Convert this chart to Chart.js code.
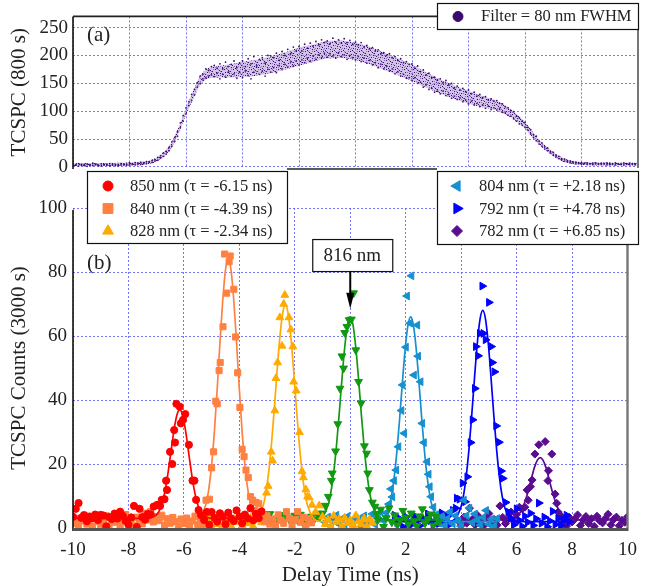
<!DOCTYPE html>
<html>
<head>
<meta charset="utf-8">
<script src="https://cdn.jsdelivr.net/npm/chart.js@4.4.1/dist/chart.umd.min.js"></script>
<style>
  body { margin: 0; background: #fff; }
  #wrap { position: relative; width: 648px; height: 586px; }
  #wrap canvas { position: absolute; left: 0; top: 0; }
</style>
</head>
<body>
<div id="wrap">
  <canvas id="topPanel" width="648" height="586"></canvas>
  <canvas id="bottomPanel" width="648" height="586"></canvas>
</div>
<script>
// ============================ DATA ============================

// ---- panel (a): broadband TCSPC, 800 s ----
const xTop = [-10,-9.9,-9.8,-9.7,-9.6,-9.5,-9.4,-9.3,-9.2,-9.1,
  -9,-8.9,-8.8,-8.7,-8.6,-8.5,-8.4,-8.3,-8.2,-8.1,
  -8,-7.9,-7.8,-7.7,-7.6,-7.5,-7.4,-7.3,-7.2,-7.1,
  -7,-6.9,-6.8,-6.7,-6.6,-6.5,-6.4,-6.3,-6.2,-6.1,
  -6,-5.9,-5.8,-5.7,-5.6,-5.5,-5.4,-5.3,-5.2,-5.1,
  -5,-4.9,-4.8,-4.7,-4.6,-4.5,-4.4,-4.3,-4.2,-4.1,
  -4,-3.9,-3.8,-3.7,-3.6,-3.5,-3.4,-3.3,-3.2,-3.1,
  -3,-2.9,-2.8,-2.7,-2.6,-2.5,-2.4,-2.3,-2.2,-2.1,
  -2,-1.9,-1.8,-1.7,-1.6,-1.5,-1.4,-1.3,-1.2,-1.1,
  -1,-0.9,-0.8,-0.7,-0.6,-0.5,-0.4,-0.3,-0.2,-0.1,
  0,0.1,0.2,0.3,0.4,0.5,0.6,0.7,0.8,0.9,
  1,1.1,1.2,1.3,1.4,1.5,1.6,1.7,1.8,1.9,
  2,2.1,2.2,2.3,2.4,2.5,2.6,2.7,2.8,2.9,
  3,3.1,3.2,3.3,3.4,3.5,3.6,3.7,3.8,3.9,
  4,4.1,4.2,4.3,4.4,4.5,4.6,4.7,4.8,4.9,
  5,5.1,5.2,5.3,5.4,5.5,5.6,5.7,5.8,5.9,
  6,6.1,6.2,6.3,6.4,6.5,6.6,6.7,6.8,6.9,
  7,7.1,7.2,7.3,7.4,7.5,7.6,7.7,7.8,7.9,
  8,8.1,8.2,8.3,8.4,8.5,8.6,8.7,8.8,8.9,
  9,9.1,9.2,9.3,9.4,9.5,9.6,9.7,9.8,9.9,10];
const topDotsA = [5.5,3.0,6.0,4.5,2.5,5.0,3.5,6.5,4.0,2.0,
  5.5,4.5,3.0,6.0,5.0,2.5,4.5,6.0,3.5,5.0,
  7.0,4.5,7.5,6.5,8.0,6.0,9.5,8.5,11.5,13.0,
  17,16,25,28,29,45,53,63,70,92,
  106,110,130,139,151,163,158,176,173,180,
  182,168,185,176,188,170,184,190,178,186,
  190,180,194,185,198,179,193,196,186,200,
  199,196,204,191,207,200,211,203,215,208,
  216,208,220,213,222,217,225,219,228,223,
  226,221,231,224,228,222,230,223,227,220,
  224,219,223,215,218,212,214,208,210,203,
  205,200,203,196,198,191,194,187,189,184,
  185,177,181,171,174,165,168,160,161,156,
  158,151,155,147,150,142,145,138,141,135,
  138,131,134,127,130,124,126,120,122,118,
  119,114,113,108,106,101,99,91,88,82,
  80,71,67,58,55,46,43,36,34,28,
  26,21,19,15,14,11,10.5,9,8.5,7.5,
  7.5,6.0,7.0,5.5,6.5,7.0,5.0,6.5,6.0,7.0,
  6.5,5.0,7.0,6.0,5.5,7.0,5.0,6.5,6.0,5.5,6.0];
const topDotsB = [2.0,4.0,1.5,3.0,4.5,1.0,3.5,2.5,5.0,3.0,
  1.5,3.5,5.0,2.0,3.0,4.5,2.0,3.5,5.5,3.0,
  3.5,6.0,4.0,5.0,4.5,7.5,6.0,9.5,8.0,10.5,
  12,20,19,23,35,37,46,55,79,82,
  95,117,119,129,143,150,166,160,163,165,
  162,177,158,166,161,180,163,167,159,170,
  160,172,164,158,170,182,166,172,163,175,
  170,178,169,182,176,184,179,188,181,190,
  183,192,187,195,190,199,193,201,196,204,
  197,203,199,195,205,198,201,193,200,196,
  192,198,189,195,186,191,183,187,178,184,
  176,181,172,176,167,171,163,166,159,160,
  155,160,150,152,143,147,139,141,134,136,
  131,136,128,130,123,127,121,124,117,120,
  113,118,111,114,108,111,105,109,103,106,
  102,104,98,97,93,91,86,82,77,75,
  71,66,59,53,47,41,37,32,29,25,
  21,18,15,13,10.5,9,7.5,7,5.5,6,
  5.0,6.5,4.5,6.0,4.0,5.5,6.0,4.5,5.5,4.0,
  4.0,5.5,3.5,5.0,4.5,3.5,6.0,4.0,5.0,4.0,4.5];
// envelope of the dense scatter band
const bandX  = [-10,-9,-8.5,-8,-7.5,-7.25,-7,-6.75,-6.5,-6.25,-6,-5.75,-5.5,-5.25,-5,-4.5,-4,-3.5,-3,-2.5,
  -2,-1.5,-1,-0.5,0,0.5,1,1.5,2,2.5,3,3.5,4,4.5,5,5.5,5.75,6,6.25,6.5,6.75,7,7.25,7.5,7.75,8,8.5,9,10];
const bandHi = [6.6,6.8,7.3,7.8,9.6,12,17.8,28.5,45.2,72.9,106.6,135.3,163,176.4,180.1,183.5,188.6,192.3,198,205.7,
  214.4,219.7,225.7,226.7,222.7,215.7,205.7,195,184,169.6,156.9,146.2,136.5,127.1,118.7,103.3,92.6,80.9,64.2,48.5,
  37.2,26.8,18.5,13.1,10.3,8.8,7.8,7.6,7.6];
const bandLo = [1.2,1.4,1.9,2.4,3.6,5.2,10.4,19.5,34.8,61.1,93.4,120.7,147,157.6,159.9,160.5,161.4,163.7,168,174.3,
  181.6,188.3,194.3,195.3,191.3,184.3,174.3,165,154,142.4,131.1,121.8,113.5,106.9,101.3,88.7,79.4,69.1,53.8,39.5,
  28.9,19.2,11.6,6.9,4.8,3.3,2.5,2.3,2.3];
const topTicks = [0, 50, 100, 150, 200, 250];
const topLegend = 'Filter = 80 nm FWHM';

// ---- panel (b): filtered TCSPC, 3000 s ----
const xTicks = [-10, -8, -6, -4, -2, 0, 2, 4, 6, 8, 10];
const bottomTicks = [0, 20, 40, 60, 80, 100];

const x850 = [-10,-9.9,-9.8,-9.7,-9.6,-9.5,-9.4,-9.3,-9.2,-9.1,
  -9,-8.9,-8.8,-8.7,-8.6,-8.5,-8.4,-8.3,-8.2,-8.1,
  -8,-7.9,-7.8,-7.7,-7.6,-7.5,-7.4,-7.3,-7.2,-7.09,
  -6.97,-6.86,-6.8,-6.7,-6.64,-6.61,-6.5,-6.42,-6.35,-6.32,
  -6.27,-6.15,-6.11,-6.03,-5.95,-5.82,-5.69,-5.62,-5.56,-5.47,
  -5.38,-5.27,-5.17,-5.08,-5,-4.9,-4.8,-4.7,-4.6,-4.5,
  -4.4,-4.3,-4.2,-4.1,-4,-3.9,-3.8,-3.7,-3.6,-3.5,
  -3.4,-3.3,-3.2];
const y850 = [3.5,6.0,7.8,3.2,4.0,2.1,3.6,3.0,4.2,2.5,
  4.1,3.9,0.5,3.4,2.8,4.5,3.0,5.1,3.8,2.2,
  1.0,3.3,6.9,0.3,6.0,3.4,2.6,4.4,4.3,6.7,
  7.2,6.9,8.8,9.0,14.8,11.9,23.8,20.0,30.6,26.7,
  38.8,37.9,32.7,33.8,35.6,26.0,14.8,14.8,8.8,5.6,
  4.0,2.5,5.0,1.0,5.0,3.2,2.0,4.6,3.5,1.2,
  4.8,3.0,2.2,5.5,3.6,1.5,4.2,3.0,6.2,2.4,
  4.4,3.1,5.2];
const fitX850 = [-10,-7.35,-7.15,-6.95,-6.85,-6.75,-6.65,-6.55,-6.45,-6.35,-6.25,-6.15,
  -6.05,-5.95,-5.85,-5.75,-5.65,-5.55,-5.45,-5.35,-5.15,-4.95,-3.2];
const fitY850 = [3,3,3.3,4.5,6.1,8.9,13,18.6,24.9,31,35.4,37,35.4,31,24.9,18.6,13,8.9,6.1,4.5,3.3,3,3];

const x840 = [-10,-9.9,-9.8,-9.7,-9.6,-9.5,-9.4,-9.3,-9.2,-9.1,
  -9,-8.9,-8.8,-8.7,-8.6,-8.5,-8.4,-8.3,-8.2,-8.1,
  -8,-7.9,-7.8,-7.7,-7.6,-7.5,-7.4,-7.3,-7.2,-7.1,
  -7,-6.9,-6.8,-6.7,-6.6,-6.5,-6.4,-6.3,-6.2,-6.1,
  -6,-5.9,-5.8,-5.7,-5.6,-5.5,-5.4,-5.3,
  -5.2,-5.08,-5,-4.93,-4.85,-4.8,-4.73,-4.69,-4.59,-4.53,-4.46,-4.37,-4.33,-4.2,-4.14,-4.06,
  -3.98,-3.9,-3.83,-3.76,-3.68,-3.6,-3.52,-3.45,
  -3.4,-3.3,-3.2,-3.1,-3,-2.9,-2.8,-2.7,-2.6,-2.5,
  -2.4,-2.3,-2.2,-2.1,-2,-1.9,-1.8,-1.7,-1.6,-1.5,-1.4];
const y840 = [1.5,3.0,0.8,2.2,4.0,1.2,2.8,0.5,3.5,2.0,
  1.0,2.6,3.8,0.6,2.4,1.8,3.2,0.9,2.7,4.2,
  1.6,2.9,0.7,3.4,2.1,1.3,4.6,2.5,5.1,1.9,
  3.6,2.3,4.0,0.8,2.9,1.5,3.3,2.0,0.6,2.8,
  1.4,3.1,0.9,2.2,3.7,1.1,2.6,0.8,
  8.7,9.0,18.8,23.8,39.6,38.8,49.2,51.7,62.9,85.6,73.4,83.2,85.0,74.6,59.7,48.5,
  37.7,24.6,22.3,18.1,15.8,9.8,8.7,5.5,
  8.0,7.6,4.5,2.0,3.8,1.2,2.7,0.8,4.1,2.4,
  1.5,5.1,3.0,0.9,2.6,5.1,1.8,3.4,0.7,2.9,1.6];
const fitX840 = [-10,-5.6,-5.4,-5.2,-5.1,-5,-4.9,-4.8,-4.7,-4.6,-4.5,-4.4,
  -4.3,-4.2,-4.1,-4,-3.9,-3.8,-3.7,-3.6,-3.4,-3.2,-1.4];
const fitY840 = [2.5,2.6,3.6,7.6,12.3,19.7,30.1,43.3,57.8,71,80.6,84,80.6,71,57.8,43.3,30.1,19.7,12.3,7.6,3.6,2.6,2.5];

const x828 = [-5.4,-5.3,-5.2,-5.1,-5,-4.9,-4.8,-4.7,-4.6,-4.5,
  -4.4,-4.3,-4.2,-4.1,-4,-3.9,-3.8,-3.7,-3.6,-3.5,
  -3.4,-3.3,-3.2,-3.1,
  -3.02,-2.96,-2.85,-2.8,-2.72,-2.68,-2.62,-2.54,-2.46,-2.4,-2.36,-2.21,-2.14,-2.07,-2.04,-1.95,
  -1.83,-1.74,-1.69,-1.6,-1.54,-1.48,-1.38,-1.25,-1.12,
  -1,-0.9,-0.8,-0.7,-0.6,-0.5,-0.4,-0.3,-0.2,-0.1,
  0,0.1,0.2,0.3,0.4,0.5,0.6,0.7,0.8];
const y828 = [2.0,0.4,1.8,3.0,0.3,2.4,1.2,3.4,0.8,2.2,
  1.5,0.6,2.9,1.9,3.6,0.7,2.3,1.4,3.1,0.5,
  2.6,4.0,1.7,3.3,
  11.0,13.1,23.8,21.0,36.7,46.8,51.7,65.8,56.9,70.0,72.8,65.8,62.0,56.7,45.7,42.9,
  29.9,17.7,15.8,12.0,9.8,9.5,7.2,5.0,7.0,
  3.5,1.2,2.6,0.4,3.8,1.9,2.8,0.6,3.2,1.5,
  2.4,0.9,3.9,2.0,1.1,3.0,0.5,2.7,1.6];
const fitX828 = [-5.4,-3.54,-3.34,-3.14,-3.04,-2.94,-2.84,-2.74,-2.64,-2.54,-2.44,-2.34,
  -2.24,-2.14,-2.04,-1.94,-1.84,-1.74,-1.64,-1.54,-1.34,-1.14,0.8];
const fitY828 = [2,2.1,3.2,7,11.2,17.6,26.4,37.2,48.9,59.5,67,69.7,67,59.5,48.9,37.2,26.4,17.6,11.2,7,3.2,2.1,2];

const x816 = [-3.1,-3,-2.9,-2.8,-2.7,-2.6,-2.5,-2.4,-2.3,-2.2,
  -2.1,-2,-1.9,-1.8,-1.7,-1.6,-1.5,-1.4,-1.3,-1.2,
  -1.1,-1,
  -0.9,-0.79,-0.68,-0.65,-0.53,-0.45,-0.37,-0.3,-0.24,-0.2,-0.12,-0.04,0.04,0.12,0.2,0.3,0.39,
  0.51,0.59,0.63,0.69,0.8,0.89,0.95,
  1,1.1,1.2,1.3,1.4,1.5,1.6,1.7,1.8,1.9,
  2,2.1,2.2,2.3,2.4,2.5,2.6,2.7,2.8,2.9,
  3,3.1,3.2];
const y816 = [3.8,2.2,4.4,1.6,3.0,2.6,4.1,1.9,3.4,2.8,
  1.2,3.9,2.4,4.2,1.5,3.1,2.0,3.6,2.7,4.5,
  3.4,4.6,
  7.0,9.8,14.8,17.1,24.0,32.5,43.6,53.7,49.9,61.0,62.9,65.0,65.2,73.4,55.6,45.7,39.0,
  25.6,23.3,17.1,11.9,8.0,6.7,4.4,
  2.6,5.8,0.4,3.1,6.2,1.8,4.0,0.9,2.5,5.4,
  3.3,1.2,4.6,2.2,0.6,3.7,5.9,1.5,2.8,4.3,
  0.8,3.5,2.0];
const fitX816 = [-3.1,-1.2,-1,-0.8,-0.7,-0.6,-0.5,-0.4,-0.3,-0.2,-0.1,0,
  0.1,0.2,0.3,0.4,0.5,0.6,0.7,0.8,1,1.2,3.2];
const fitY816 = [2.5,2.6,3.6,7.1,11.1,17.1,25.4,35.5,46.5,56.4,63.5,66,63.5,56.4,46.5,35.5,25.4,17.1,11.1,7.1,3.6,2.6,2.5];

const x804 = [-0.9,-0.8,-0.7,-0.6,-0.5,-0.4,-0.3,-0.2,-0.1,0,
  0.1,0.2,0.3,0.4,0.5,0.6,0.7,0.8,0.9,1,
  1.1,1.2,1.3,
  1.4,1.47,1.52,1.58,1.66,1.74,1.85,1.89,1.95,2.01,2.05,2.16,2.21,2.3,2.42,2.45,2.54,2.6,2.66,
  2.78,2.83,2.87,2.92,3,
  3.1,3.2,3.3,3.4,3.5,3.6,3.7,3.8,3.9,4,
  4.1,4.2,4.3,4.4,4.5,4.6,4.7,4.8,4.9,5,
  5.1,5.2,5.3];
const y804 = [1.8,3.4,0.6,2.5,4.0,1.2,2.9,0.3,3.6,2.0,
  1.0,3.1,2.4,0.5,3.8,1.6,2.7,4.4,1.1,3.0,
  5.0,2.3,4.8,
  7.5,12.2,9.7,14.8,18.1,25.4,36.7,44.7,29.6,56.5,72.5,64.0,78.8,47.8,63.4,53.7,45.7,32.7,26.7,
  20.7,16.8,12.9,9.8,6.5,
  4.2,1.5,3.6,0.8,2.9,5.0,1.3,3.8,2.2,0.5,
  8.7,3.9,6.2,1.7,4.4,2.6,0.9,3.3,5.5,1.2,
  2.8,0.6,3.0];
const fitX804 = [-0.9,0.98,1.18,1.38,1.48,1.58,1.68,1.78,1.88,1.98,2.08,2.18,
  2.28,2.38,2.48,2.58,2.68,2.78,2.88,2.98,3.18,3.38,5.3];
const fitY804 = [2,2.1,2.8,6,9.7,15.5,23.7,34,45.4,55.8,63.3,66,63.3,55.8,45.4,34,23.7,15.5,9.7,6,2.8,2.1,2];

const x792 = [1.6,1.7,1.8,1.9,2,2.1,2.2,2.3,2.4,2.5,
  2.6,2.7,2.8,2.9,3,3.1,3.2,3.3,3.4,3.5,
  3.6,3.7,
  3.8,3.84,3.94,4.05,4.14,4.22,4.34,4.41,4.49,4.53,4.61,4.67,4.76,4.8,4.88,5,5.08,5.12,5.2,5.26,
  5.36,5.44,5.5,5.6,5.7,
  5.8,5.9,6,6.1,6.2,6.3,6.4,6.5,6.6,6.7,
  6.8,6.9,7,7.1,7.2,7.3,7.4,7.5,7.6,7.7,
  7.8,7.9];
const y792 = [4.0,1.6,2.8,0.4,3.5,2.1,1.0,3.9,2.5,0.7,
  3.2,1.8,4.4,2.3,0.9,3.0,1.4,4.7,2.2,3.6,
  1.2,5.5,
  6.2,9.3,9.0,14.0,8.2,16.0,26.7,33.8,43.6,56.7,53.8,60.8,75.6,60.8,58.8,70.5,56.7,51.7,48.8,31.9,
  26.8,17.8,15.5,8.0,5.0,
  3.1,1.0,6.0,2.4,0.5,3.7,1.8,4.6,0.8,2.9,
  7.8,1.5,3.4,0.4,2.2,5.2,1.1,3.0,0.7,2.6,
  4.0,1.9];
const fitX792 = [1.6,3.58,3.78,3.98,4.08,4.18,4.28,4.38,4.48,4.58,4.68,4.78,
  4.88,4.98,5.08,5.18,5.28,5.38,5.48,5.58,5.78,5.98,7.9];
const fitY792 = [2,2.1,2.9,6.2,9.9,15.9,24.4,35,46.7,57.5,65.2,68,65.2,57.5,46.7,35,24.4,15.9,9.9,6.2,2.9,2.1,2];

const x782 = [3.9,4,4.1,4.2,4.3,4.4,4.5,4.6,4.7,4.8,
  4.9,5,5.1,5.2,5.3,5.4,5.5,5.6,5.7,5.8,
  5.9,6,6.1,
  6.2,6.3,6.38,6.42,6.5,6.56,6.66,6.8,7.03,7.13,7.15,7.27,7.39,7.45,7.5,
  7.6,7.7,7.8,7.9,8,8.1,8.2,8.3,8.4,8.5,
  8.6,8.7,8.8,8.9,9,9.1,9.2,9.3,9.4,9.5,
  9.6,9.7,9.8,9.9,10];
const y782 = [2.2,0.8,3.4,1.5,6.2,2.7,1.0,3.9,2.0,0.6,
  3.1,4.5,1.8,2.6,0.9,6.9,3.3,1.4,2.8,5.0,
  2.1,4.2,6.5,
  6.0,6.5,11.9,8.7,12.9,15.0,23.1,26.0,27.0,14.8,17.9,23.1,10.6,7.7,5.0,
  3.8,2.0,0.6,3.3,1.9,2.8,4.1,0.8,2.5,3.6,
  1.4,2.9,0.5,3.7,2.2,1.6,3.0,4.3,1.0,2.7,
  3.4,0.7,2.4,1.8,3.5];
const fitX782 = [3.9,5.65,5.85,6.05,6.15,6.25,6.35,6.45,6.55,6.65,6.75,6.85,
  6.95,7.05,7.15,7.25,7.35,7.45,7.55,7.65,7.85,8.05,10];
const fitY782 = [2.5,2.5,2.8,3.9,5.1,7,9.5,12.6,16,19.1,21.2,22,21.2,19.1,16,12.6,9.5,7,5.1,3.9,2.8,2.5,2.5];

// ============================ STYLE ============================
const SERIF = '"Liberation Serif", "Times New Roman", serif';
const GRID = 'rgba(85, 85, 250, 0.8)';
const TEXT = '#222';

// series table: wavelength label, colour, marker; legend side (null = not in legend)
const series = [
  {label: '850 nm (τ = -6.15 ns)', color: '#ff0000', style: 'circle',   rot: 0,   r: 3.6, lr: 5,   side: 'L', x: x850, y: y850, fx: fitX850, fy: fitY850},
  {label: '840 nm (τ = -4.39 ns)', color: '#ff8040', style: 'rect',     rot: 0,   r: 4.3, lr: 7,   side: 'L', x: x840, y: y840, fx: fitX840, fy: fitY840},
  {label: '828 nm (τ = -2.34 ns)', color: '#ffaa00', style: 'triangle', rot: 0,   r: 4.5, lr: 6.2, side: 'L', x: x828, y: y828, fx: fitX828, fy: fitY828},
  {label: '816 nm',                color: '#119911', style: 'triangle', rot: 180, r: 4.5, lr: 6.2, side: null, x: x816, y: y816, fx: fitX816, fy: fitY816},
  {label: '804 nm (τ = +2.18 ns)', color: '#1590d0', style: 'triangle', rot: 270, r: 4.5, lr: 6.2, side: 'R', x: x804, y: y804, fx: fitX804, fy: fitY804},
  {label: '792 nm (τ = +4.78 ns)', color: '#0000ff', style: 'triangle', rot: 90,  r: 4.5, lr: 6.2, side: 'R', x: x792, y: y792, fx: fitX792, fy: fitY792},
  {label: '782 nm (τ = +6.85 ns)', color: '#5a0d8f', style: 'rectRot',  rot: 0,   r: 4,   lr: 5.5, side: 'R', x: x782, y: y782, fx: fitX782, fy: fitY782}
];

const pts = (xs, ys) => xs.map((x, i) => ({x: x, y: ys[i]}));
const fixedTicks = list => scale => { scale.ticks = list.map(v => ({value: v})); };

// stippled fill so the band reads like a dense cloud of tiny points
function stipple() {
  const c = document.createElement('canvas');
  c.width = 9; c.height = 9;
  const g = c.getContext('2d');
  g.fillStyle = 'rgba(165, 135, 210, 0.5)';
  g.fillRect(0, 0, 9, 9);
  g.fillStyle = 'rgba(120, 80, 175, 0.7)';
  [[2, 0], [6, 1], [0, 3], [4, 3], [8, 4], [2, 6], [6, 6], [4, 8]].forEach(p => g.fillRect(p[0], p[1], 1, 1));
  g.fillStyle = '#40106f';
  [[0, 0], [4, 1], [7, 2], [2, 3], [6, 4], [1, 5], [8, 6], [3, 7], [5, 8]].forEach(p => g.fillRect(p[0], p[1], 1, 1));
  return g.createPattern(c, 'repeat');
}

function line(ctx, x1, y1, x2, y2, color, width) {
  ctx.save();
  ctx.strokeStyle = color;
  ctx.lineWidth = width;
  ctx.beginPath();
  ctx.moveTo(x1, y1);
  ctx.lineTo(x2, y2);
  ctx.stroke();
  ctx.restore();
}

function box(ctx, x, y, w, h) {
  ctx.save();
  ctx.fillStyle = '#fff';
  ctx.fillRect(x, y, w, h);
  ctx.strokeStyle = '#111';
  ctx.lineWidth = 1.2;
  ctx.strokeRect(x + 0.5, y + 0.5, w, h);
  ctx.restore();
}

function marker(ctx, s, x, y) {
  ctx.save();
  ctx.fillStyle = s.color;
  ctx.strokeStyle = s.color;
  Chart.helpers.drawPoint(ctx, {pointStyle: s.style, rotation: s.rot, radius: s.lr, borderWidth: 1}, x, y);
  ctx.restore();
}

function label(ctx, text, x, y, size, align) {
  ctx.save();
  ctx.fillStyle = TEXT;
  ctx.font = size + 'px ' + SERIF;
  ctx.textAlign = align || 'left';
  ctx.textBaseline = 'middle';
  ctx.fillText(text, x, y);
  ctx.restore();
}

// ============================ PANEL (a) ============================
const topFrame = {
  id: 'topFrame',
  afterDraw(chart) {
    const {ctx, chartArea: a} = chart;
    line(ctx, a.left, a.top, a.left, a.bottom + 1, '#111', 1.6);     // left axis
    line(ctx, a.left, a.top, 437, a.top, '#222', 1.8);               // top frame
    line(ctx, a.right, 29, a.right, a.bottom, '#777', 2);            // right frame
    line(ctx, 287, a.bottom + 1, 437, a.bottom + 1, '#222', 1.4);    // bottom frame (visible part)
    box(ctx, 437, 3, 201, 26);
    marker(ctx, {color: '#3b0a6e', style: 'circle', rot: 0, lr: 5}, 458, 16.5);
    label(ctx, topLegend, 481, 17, 16.5);
    label(ctx, '(a)', 87, 35, 21);
  }
};

new Chart(document.getElementById('topPanel'), {
  type: 'scatter',
  data: {
    datasets: [
      {data: pts(xTop, topDotsA), pointRadius: 0.9, pointBorderWidth: 0, backgroundColor: '#3b0a6e'},
      {data: pts(xTop, topDotsB), pointRadius: 0.9, pointBorderWidth: 0, backgroundColor: '#4a1a80'},
      {data: pts(bandX, bandHi), showLine: true, pointRadius: 0, borderWidth: 0, borderColor: 'rgba(0,0,0,0)', tension: 0.3, fill: false},
      {data: pts(bandX, bandLo), showLine: true, pointRadius: 0, borderWidth: 0, borderColor: 'rgba(0,0,0,0)', tension: 0.3,
       fill: '-1', backgroundColor: stipple()}
    ]
  },
  options: {
    responsive: false,
    animation: false,
    devicePixelRatio: 1,
    layout: {padding: {left: 0, right: 10, top: 8, bottom: 418}},
    plugins: {legend: {display: false}, tooltip: {enabled: false}},
    scales: {
      x: {
        type: 'linear', min: -10, max: 10,
        afterBuildTicks: fixedTicks(xTicks),
        ticks: {display: false},
        grid: {color: GRID, drawTicks: false},
        border: {display: false, dash: [2, 2]},
        afterFit(s) { s.height = 0; }
      },
      y: {
        min: -2, max: 270,
        afterBuildTicks: fixedTicks(topTicks),
        ticks: {color: TEXT, padding: 5, font: {family: SERIF, size: 19}},
        grid: {color: GRID, drawTicks: false},
        border: {display: false, dash: [2, 2]},
        title: {display: true, text: 'TCSPC (800 s)', color: TEXT, padding: {top: 9, bottom: 0},
                font: {family: SERIF, size: 21, lineHeight: 1}},
        afterFit(s) { s.width = 73; }
      }
    }
  },
  plugins: [topFrame]
});

// ============================ PANEL (b) ============================
const bottomFrame = {
  id: 'bottomFrame',
  afterDraw(chart) {
    const {ctx, chartArea: a, scales: {x, y}} = chart;
    line(ctx, a.left, a.top + 2, a.left, a.bottom + 3, '#111', 1.6);       // left axis
    line(ctx, a.left, a.bottom + 1.5, a.right + 1, a.bottom + 1.5, '#555', 3); // bottom axis
    line(ctx, a.right, 245, a.right, a.bottom, '#777', 2.4);               // right frame

    // legends
    const rowY = [186, 208.5, 231];
    box(ctx, 87, 171, 200, 72);
    box(ctx, 437, 171, 201, 73);
    series.filter(s => s.side === 'L').forEach((s, i) => {
      marker(ctx, s, 108, rowY[i]);
      label(ctx, s.label, 130, rowY[i] + 1, 16.5);
    });
    series.filter(s => s.side === 'R').forEach((s, i) => {
      marker(ctx, s, 457, rowY[i]);
      label(ctx, s.label, 479, rowY[i] + 1, 16.5);
    });
    label(ctx, '(b)', 87, 263, 21);

    // 816 nm annotation with arrow
    const ax = x.getPixelForValue(0);
    const boxTop = y.getPixelForValue(90.3), boxBot = y.getPixelForValue(80.3);
    const tip = y.getPixelForValue(68.5);
    box(ctx, ax - 38, boxTop, 80, boxBot - boxTop);
    label(ctx, series[3].label, ax + 2, (boxTop + boxBot) / 2 + 1, 19, 'center');
    line(ctx, ax, boxBot, ax, tip - 12, '#000', 2);
    ctx.save();
    ctx.fillStyle = '#000';
    ctx.beginPath();
    ctx.moveTo(ax, tip);
    ctx.lineTo(ax - 4, tip - 16);
    ctx.lineTo(ax + 4, tip - 16);
    ctx.closePath();
    ctx.fill();
    ctx.restore();
  }
};

const bottomSets = [];
series.forEach(s => {
  bottomSets.push({
    data: pts(s.fx, s.fy), showLine: true, pointRadius: 0, borderColor: s.color, borderWidth: 1.7,
    cubicInterpolationMode: 'monotone', fill: false
  });
  bottomSets.push({
    data: pts(s.x, s.y), pointStyle: s.style, rotation: s.rot, pointRadius: s.r,
    backgroundColor: s.color, borderColor: s.color, pointBorderWidth: 1
  });
});

new Chart(document.getElementById('bottomPanel'), {
  type: 'scatter',
  data: {datasets: bottomSets},
  options: {
    responsive: false,
    animation: false,
    devicePixelRatio: 1,
    layout: {padding: {left: 0, right: 11, top: 208, bottom: 0}},
    plugins: {legend: {display: false}, tooltip: {enabled: false}},
    scales: {
      x: {
        type: 'linear', min: -10, max: 10,
        afterBuildTicks: fixedTicks(xTicks),
        ticks: {color: TEXT, padding: 11, font: {family: SERIF, size: 19}},
        grid: {color: GRID, drawTicks: false},
        border: {display: false, dash: [2, 2]},
        title: {display: true, text: 'Delay Time (ns)', color: TEXT, padding: {top: 0, bottom: 0},
                font: {family: SERIF, size: 21, lineHeight: 1}},
        afterFit(s) { s.height = 58; }
      },
      y: {
        min: 0, max: 100,
        afterBuildTicks: fixedTicks(bottomTicks),
        ticks: {color: TEXT, padding: 6, font: {family: SERIF, size: 19}},
        grid: {color: GRID, drawTicks: false},
        border: {display: false, dash: [2, 2]},
        title: {display: true, text: 'TCSPC Counts (3000 s)', color: TEXT, padding: {top: 9, bottom: 0},
                font: {family: SERIF, size: 21, lineHeight: 1}},
        afterFit(s) { s.width = 73; }
      }
    }
  },
  plugins: [bottomFrame]
});
</script>
</body>
</html>
